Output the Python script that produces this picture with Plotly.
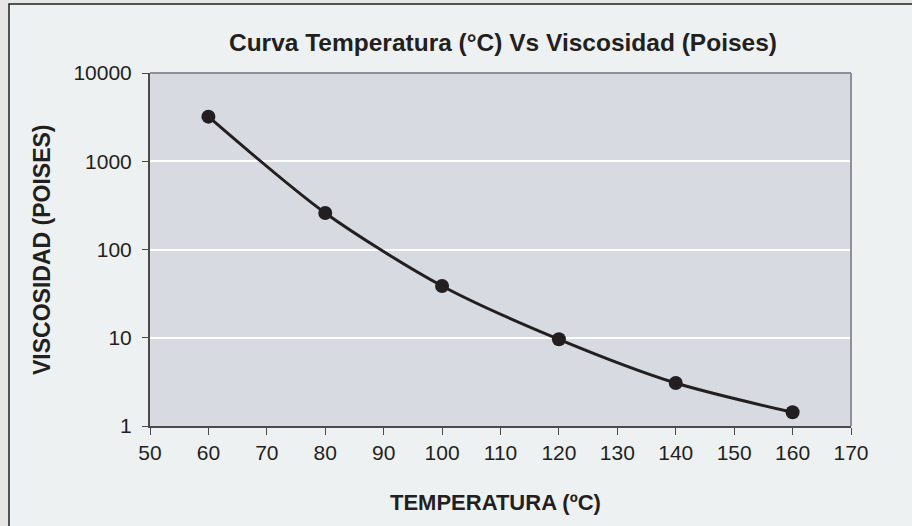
import plotly.graph_objects as go

temperatura = [60, 80, 100, 120, 140, 160]
viscosidad = [3200, 259, 38.6, 9.6, 3.07, 1.43]
y_ticks = [1, 10, 100, 1000, 10000]
y_tick_labels = ["1", "10", "100", "1000", "10000"]
x_ticks = [50, 60, 70, 80, 90, 100, 110, 120, 130, 140, 150, 160, 170]

W, H = 912, 526
L, R, T, B = 150, 61, 73, 100
pw, ph = W - L - R, H - T - B

def px(x):
    return (x - L) / pw

def py(y):
    return (H - B - y) / ph

fig = go.Figure()
fig.add_trace(go.Scatter(
    x=temperatura, y=viscosidad, mode="lines+markers",
    line=dict(color="#231f20", width=3, shape="spline", smoothing=0.8),
    marker=dict(color="#231f20", size=14),
    showlegend=False,
))

font = "Liberation Sans, Arial, sans-serif"
fig.update_layout(
    width=W, height=H,
    margin=dict(l=L, r=R, t=T, b=B),
    paper_bgcolor="#e6e6e6",
    plot_bgcolor="#d7dae1",
    font=dict(family=font, color="#231f20", size=20),
    title=dict(text="<b>Curva Temperatura (°C) Vs Viscosidad (Poises)</b>",
               x=503 / W, xref="container", xanchor="center",
               y=1 - 42 / H, yref="container", yanchor="middle", font=dict(size=24.5)),
    xaxis=dict(range=[50, 170], tickvals=x_ticks, showgrid=False,
               showline=True, linecolor="#4a4a4a", linewidth=2,
               ticks="outside", ticklen=7, tickcolor="#4a4a4a",
               zeroline=False, tickfont=dict(size=21)),
    yaxis=dict(type="log", range=[0, 4], tickvals=y_ticks, ticktext=y_tick_labels,
               showgrid=True, gridcolor="#ffffff", gridwidth=1.5,
               showline=True, linecolor="#4a4a4a", linewidth=2,
               ticks="outside", ticklen=6, tickcolor="#4a4a4a",
               ticklabelstandoff=6,
               zeroline=False, tickfont=dict(size=21)),
    annotations=[
        dict(text="<b>TEMPERATURA (ºC)</b>", xref="paper", yref="paper",
             x=px(495), y=py(502), xanchor="center", yanchor="middle",
             showarrow=False, font=dict(size=22)),
        dict(text="<b>VISCOSIDAD (POISES)</b>", xref="paper", yref="paper",
             x=px(42), y=py(250), xanchor="center", yanchor="middle",
             textangle=-90, showarrow=False, font=dict(size=23)),
    ],
    shapes=[
        dict(type="rect", xref="paper", yref="paper",
             x0=px(9), x1=px(930), y0=py(540), y1=py(4),
             line=dict(color="#231f20", width=1.5), fillcolor="#eef1f2", layer="below"),
        dict(type="rect", xref="paper", yref="paper",
             x0=0, x1=1, y0=0, y1=1,
             line=dict(width=0), fillcolor="#d7dae1", layer="below"),
        dict(type="line", xref="paper", yref="paper", x0=0, x1=1, y0=1, y1=1,
             line=dict(color="#8e9095", width=2)),
        dict(type="line", xref="paper", yref="paper", x0=1, x1=1, y0=0, y1=1,
             line=dict(color="#8e9095", width=2)),
    ],
)

fig.write_html("out.html", config={"displayModeBar": False},
               post_script="document.body.style.margin='0';document.body.style.overflow='hidden';")
